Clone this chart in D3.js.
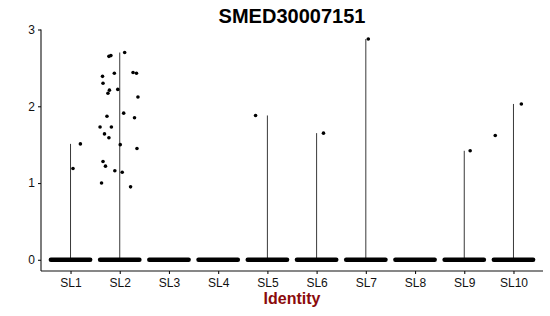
<!DOCTYPE html>
<meta charset='utf-8'>
<style>

body { margin: 0; background: white; }
svg text { font-family: 'Liberation Sans', Arial, sans-serif; }

.axis text { fill: #111; font-size: 12px; }
.axis .domain, .axis line { stroke: #111; stroke-width: 1.1px; }
.vln { stroke: #222; stroke-width: 0.9px; fill: none; }
.zero { stroke: black; stroke-width: 4.4px; stroke-linecap: round; }
.pt { fill: black; }
.title { font-size: 20px; font-weight: bold; fill: black; }
.xlab { font-size: 16px; font-weight: bold; fill: #8b0b0b; }

</style>
<body>

<script src='https://cdnjs.cloudflare.com/ajax/libs/d3/7.8.5/d3.min.js'></script>
<script>
'use strict'

// Data

let clusters = ['SL1', 'SL2', 'SL3', 'SL4', 'SL5', 'SL6', 'SL7', 'SL8', 'SL9', 'SL10']
let y_ticks = [0, 1, 2, 3]

// non-zero cells: cluster, expression, horizontal jitter (in category units)
let pt_cluster = [
	'SL1', 'SL1',
	'SL2', 'SL2', 'SL2', 'SL2', 'SL2', 'SL2', 'SL2', 'SL2', 'SL2',
	'SL2', 'SL2', 'SL2', 'SL2', 'SL2', 'SL2', 'SL2', 'SL2', 'SL2',
	'SL2', 'SL2', 'SL2', 'SL2', 'SL2', 'SL2', 'SL2', 'SL2', 'SL2',
	'SL5', 'SL6', 'SL7', 'SL9', 'SL10', 'SL10']
let pt_value = [
	1.51, 1.19,
	2.70, 2.65, 2.66, 2.39, 2.43, 2.44, 2.43, 2.30, 2.21,
	2.17, 2.22, 2.12, 1.91, 1.87, 1.85, 1.73, 1.73, 1.64,
	1.59, 1.50, 1.45, 1.28, 1.22, 1.00, 1.16, 1.14, 0.95,
	1.88, 1.65, 2.876, 1.42, 2.03, 1.62]
let pt_jitter = [
	0.20, 0.05,
	0.10, -0.22, -0.18, -0.35, -0.11, 0.27, 0.34, -0.34, -0.21,
	-0.24, -0.04, 0.37, 0.08, -0.26, 0.30, -0.40, -0.17, -0.31,
	-0.22, 0.01, 0.35, -0.34, -0.29, -0.37, -0.10, 0.05, 0.22,
	-0.24, 0.14, 0.05, 0.12, 0.16, -0.37]

// every cluster also has a dense band of zero-expression cells
let zero_width = 0.4

let points = pt_value.map((v, i) => ({c: pt_cluster[i], v: v, j: pt_jitter[i]}))
let vmax = clusters.map(c => ({c: c, v: d3.max(points.filter(p => p.c == c), p => p.v)}))
	.filter(d => d.v != null)


// Basic d3 boilerplate

let W = 550, H = 316,
	x = d3.scalePoint().domain(clusters).range([41, 543]).padding(0.6),
	y = d3.scaleLinear().domain([-0.146, 3.0]).range([271, 29.5]),
	step = x.step()

let attrs = (vals) => (s) => {
	Object.entries(vals).forEach(([k,v]) => s.attr(k, v)) }

let svg = d3.select('body').append('svg')
	.attr('width', W).attr('height', H)

svg.append('g').attr('class', 'x axis').attr('transform', 'translate(0,271)')
	.call(d3.axisBottom(x).tickSize(3).tickSizeOuter(0).tickPadding(4))
	.call(s => s.select('.domain').attr('d', `M41,0H543`))

svg.append('g').attr('class', 'y axis').attr('transform', 'translate(41,0)')
	.call(d3.axisLeft(y).tickValues(y_ticks).tickSize(3).tickPadding(3).tickFormat(d3.format('d')))
	.call(s => s.select('.domain').attr('d', `M0,${y(3)}V271`))


// Violins (collapsed to a line), then jittered points

svg.append('g').selectAll('line').data(vmax).enter().append('line')
	.attr('class', 'vln')
	.attr('x1', d => x(d.c)).attr('x2', d => x(d.c))
	.attr('y1', y(0)).attr('y2', d => y(d.v))

svg.append('g').selectAll('line').data(clusters).enter().append('line')
	.attr('class', 'zero')
	.attr('x1', d => x(d) - zero_width * step).attr('x2', d => x(d) + zero_width * step)
	.attr('y1', y(0)).attr('y2', y(0))

svg.append('g').selectAll('circle').data(points).enter().append('circle')
	.attr('class', 'pt')
	.attr('cx', d => x(d.c) + d.j * step)
	.attr('cy', d => y(d.v))
	.attr('r', 1.8)


// Labels

svg.append('text').attr('class', 'title')
	.call(attrs({x: 292, y: 22.7, 'text-anchor': 'middle'}))
	.text('SMED30007151')

svg.append('text').attr('class', 'xlab')
	.call(attrs({x: 292, y: 304, 'text-anchor': 'middle'}))
	.text('Identity')

</script>
</body>
